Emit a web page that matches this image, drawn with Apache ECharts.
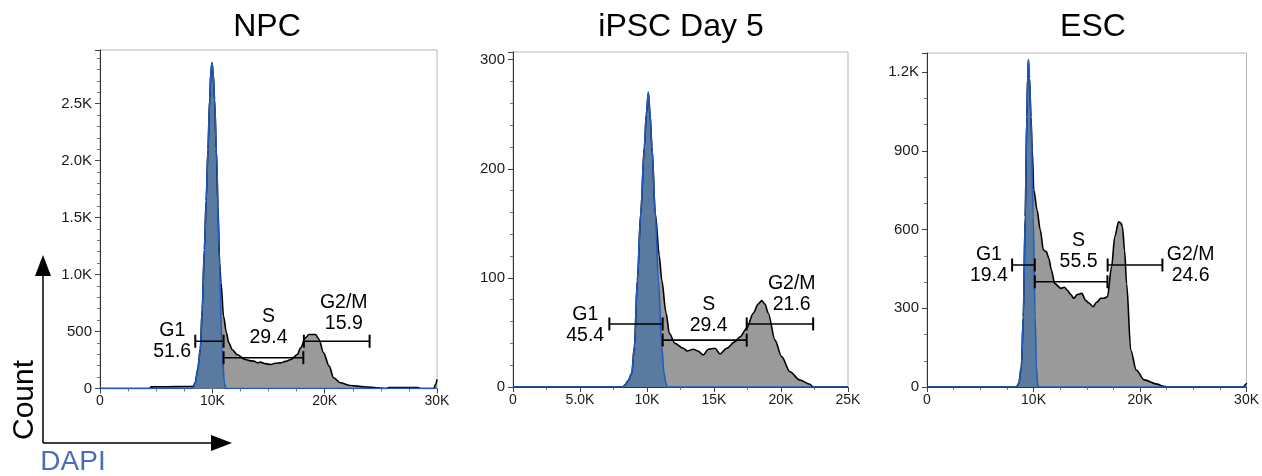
<!DOCTYPE html>
<html>
<head>
<meta charset="utf-8">
<script src="https://cdn.jsdelivr.net/npm/echarts@6/dist/echarts.min.js"></script>
<style>
  html, body { margin: 0; padding: 0; background: #fff; }
  #chart { width: 1262px; height: 476px; }
</style>
</head>
<body>
<div id="chart"></div>
<script>
// --- data (DAPI value, cell count) ---

const panelTitles = ['NPC', 'iPSC Day 5', 'ESC'];

// whole population histogram (grey) and G1 fit (blue)
const npcAll = [[0,0],[4400,0],[4550,14],[6000,16],[7500,17],[8300,18],[8480,55],[8700,170],[8930,350],[9100,700],[9290,1219],[9450,1650],[9610,2096],[9760,2535],[9870,2780],[9970,2857],[10080,2760],[10200,2535],[10360,2096],[10500,1600],[10650,1105],[10770,930],[11000,634],[11250,490],[11460,403],[11760,342],[12200,298],[12950,254],[13300,245],[13700,240],[14000,226],[14300,231],[14700,218],[15200,210],[15600,222],[16100,225],[16500,238],[17000,254],[17560,298],[17860,357],[18300,445],[18600,474],[19200,474],[19500,430],[19900,313],[20400,196],[20800,94],[21400,50],[22300,26],[23500,15],[24900,5],[25500,0],[25700,8],[28300,8],[28500,0],[29700,0],[29900,40],[30000,80]];
const npcG1 = [[0,0],[8300,0],[8480,50],[8700,160],[8930,342],[9100,700],[9290,1219],[9450,1650],[9610,2096],[9760,2535],[9870,2780],[9970,2857],[10080,2760],[10200,2535],[10360,2096],[10600,1219],[10870,342],[11070,50],[11200,0],[30000,0]];

const ipscAll = [[0,0],[8200,0],[8360,2],[8600,6],[8860,12.5],[9060,37],[9280,98],[9530,159],[9800,220],[9950,250],[10100,270],[10230,250],[10370,220],[10620,159],[10920,120],[11100,98],[11420,68],[11670,49],[12090,40],[12710,35.5],[13000,33],[13460,34.6],[13800,33],[14200,29.4],[14580,34.6],[15070,35.5],[15450,30.3],[15950,35.5],[16570,41.6],[16940,46],[17440,53.8],[17930,67.6],[18300,76],[18560,79.2],[18800,76],[19050,67.6],[19550,43],[20050,27.8],[20670,14],[21400,6.4],[22160,2.5],[22400,0],[25000,0]];
const ipscG1 = [[0,0],[8200,0],[8360,2],[8600,6],[8860,12.5],[9060,37],[9280,98],[9530,159],[9800,220],[9950,250],[10100,270],[10230,250],[10370,220],[10620,159],[10850,98],[11100,37],[11270,12.5],[11400,4],[11500,0],[25000,0]];

const escAll = [[0,0],[8400,0],[8620,14],[8860,77],[9040,268],[9220,649],[9370,1030],[9450,1180],[9520,1247],[9620,1180],[9760,1030],[9880,904],[10030,751],[10330,675],[10630,599],[10930,522],[11200,516],[11440,491],[11680,446],[11980,395],[12580,376],[12900,380],[13180,369],[13500,352],[13780,338],[14100,352],[14530,357],[14900,330],[15200,320],[15590,306],[15900,322],[16330,338],[16600,338],[16940,344],[17330,459],[17630,573],[17990,630],[18200,625],[18350,611],[18550,520],[18740,395],[19130,141],[19640,65],[20390,27],[21600,11],[22200,3],[22500,0],[29700,0],[29900,8],[30000,15]];
const escG1 = [[0,0],[8400,0],[8620,14],[8860,77],[9040,268],[9220,649],[9370,1030],[9450,1180],[9520,1247],[9620,1180],[9760,1030],[9970,649],[10150,268],[10270,77],[10390,10],[10500,0],[30000,0]];

// gates: name, percent, from, to, bar height (count)
const npcGates = [['G1','51.6',8480,11000,415],['S','29.4',11000,18100,270],['G2/M','15.9',18150,24000,415]];
const ipscGates = [['G1','45.4',7190,11170,57.8],['S','29.4',11170,17440,43],['G2/M','21.6',17440,22400,57.8]];
const escGates = [['G1','19.4',7990,10120,465],['S','55.5',10120,16940,401],['G2/M','24.6',16960,22100,465]];

// where the gate labels sit (DAPI, count)
const npcLabelAt = [[6430,412],[15000,539],[21700,657]];
const ipscLabelAt = [[5390,57],[14600,66],[20800,85]];
const escLabelAt = [[5810,463],[14230,518],[24750,465]];

// axis ticks
const npcXTicks = [0,10000,20000,30000], npcXLabels = ['0','10K','20K','30K'];
const npcYTicks = [0,500,1000,1500,2000,2500], npcYLabels = ['0','500','1.0K','1.5K','2.0K','2.5K'];
const ipscXTicks = [0,5000,10000,15000,20000,25000], ipscXLabels = ['0','5.0K','10K','15K','20K','25K'];
const ipscYTicks = [0,100,200,300], ipscYLabels = ['0','100','200','300'];
const escXTicks = [0,10000,20000,30000], escXLabels = ['0','10K','20K','30K'];
const escYTicks = [0,300,600,900,1200], escYLabels = ['0','300','600','900','1.2K'];

// --- layout ---
const FONT = "'Liberation Sans', Arial, sans-serif";
const panels = [
    { all: npcAll, g1: npcG1, gates: npcGates, labelAt: npcLabelAt,
      xT: npcXTicks, xL: npcXLabels, yT: npcYTicks, yL: npcYLabels,
      grid: { left: 100, top: 50, width: 337, height: 338.5 }, xMax: 30000, yMax: 2970,
      xInt: 10000, yInt: 500, xMinor: 4, yMinor: 5, titleX: 267 },
    { all: ipscAll, g1: ipscG1, gates: ipscGates, labelAt: ipscLabelAt,
      xT: ipscXTicks, xL: ipscXLabels, yT: ipscYTicks, yL: ipscYLabels,
      grid: { left: 513, top: 52, width: 335, height: 335 }, xMax: 25000, yMax: 307,
      xInt: 5000, yInt: 100, xMinor: 2, yMinor: 5, titleX: 681 },
    { all: escAll, g1: escG1, gates: escGates, labelAt: escLabelAt,
      xT: escXTicks, xL: escXLabels, yT: escYTicks, yL: escYLabels,
      grid: { left: 927, top: 53, width: 333, height: 334 }, xMax: 30000, yMax: 1273,
      xInt: 10000, yInt: 300, xMinor: 4, yMinor: 3, titleX: 1093 }
];

function lookup(ticks, labels) {
    return v => { const i = ticks.indexOf(v); return i < 0 ? '' : labels[i]; };
}

function axis(idx, max, interval, minor, ticks, labels, isX) {
    return {
        type: 'value', gridIndex: idx, min: 0, max: max, interval: interval,
        axisLine: { show: true, lineStyle: { color: '#333', width: 1 } },
        axisTick: { show: true, length: 5, lineStyle: { color: '#444' } },
        minorTick: { show: true, splitNumber: minor, length: 3, lineStyle: { color: '#777' } },
        splitLine: { show: false },
        axisLabel: { fontSize: isX ? 14 : 15, color: '#1a1a1a', fontFamily: FONT, margin: isX ? 6 : 8,
                     formatter: lookup(ticks, labels), showMaxLabel: true },
    };
}

const grid = [], xAxis = [], yAxis = [], series = [], graphic = [];

panels.forEach((p, i) => {
    grid.push(Object.assign({ show: true, borderColor: '#b5b5b5', borderWidth: 1 }, p.grid));
    xAxis.push(axis(i, p.xMax, p.xInt, p.xMinor, p.xT, p.xL, true));
    yAxis.push(axis(i, p.yMax, p.yInt, p.yMinor, p.yT, p.yL, false));

    series.push({
        type: 'line', xAxisIndex: i, yAxisIndex: i, data: p.all,
        smooth: 0.3, smoothMonotone: 'x', showSymbol: false, silent: true,
        lineStyle: { color: '#000', width: 1.6 },
        areaStyle: { color: '#9a9a9a', opacity: 1 }
    });
    series.push({
        type: 'line', xAxisIndex: i, yAxisIndex: i, data: p.g1,
        smooth: 0.3, smoothMonotone: 'x', showSymbol: false, silent: true,
        lineStyle: { color: '#1f5cc0', width: 1.6 },
        areaStyle: { color: '#5a7b9f', opacity: 1 }
    });
    p.gates.forEach(g => {
        series.push({
            type: 'line', xAxisIndex: i, yAxisIndex: i,
            data: [[g[2], g[4]], [g[3], g[4]]],
            symbol: 'rect', symbolSize: [2, 13], showSymbol: true, silent: true,
            itemStyle: { color: '#000' },
            lineStyle: { color: '#000', width: 1.6 }
        });
    });
    series.push({
        type: 'scatter', xAxisIndex: i, yAxisIndex: i, symbolSize: 0, silent: true,
        itemStyle: { opacity: 1, color: '#000' },
        data: p.gates.map((g, k) => ({ value: p.labelAt[k], name: g[0] + '\n' + g[1] })),
        label: { show: true, position: 'inside', formatter: '{b}', fontSize: 19.5, lineHeight: 21,
                 color: '#000', textBorderWidth: 0, fontFamily: FONT }
    });

    graphic.push({
        type: 'text', x: p.titleX, y: 27,
        style: { text: panelTitles[i], fill: '#000', font: '32px ' + FONT, align: 'center', verticalAlign: 'middle' }
    });
});

// Count / DAPI arrows at bottom left
graphic.push(
    { type: 'line', shape: { x1: 43, y1: 443, x2: 43, y2: 272 }, style: { stroke: '#000', lineWidth: 1.5 } },
    { type: 'polygon', shape: { points: [[35, 276], [51, 276], [43, 255]] }, style: { fill: '#000' } },
    { type: 'line', shape: { x1: 43, y1: 443, x2: 214, y2: 443 }, style: { stroke: '#000', lineWidth: 1.5 } },
    { type: 'polygon', shape: { points: [[211, 435], [211, 451], [232, 443]] }, style: { fill: '#000' } },
    { type: 'text', x: 25, y: 400, rotation: Math.PI / 2,
      style: { text: 'Count', fill: '#000', font: '30px ' + FONT, align: 'center', verticalAlign: 'middle' } },
    { type: 'text', x: 73, y: 462,
      style: { text: 'DAPI', fill: '#4a6db8', font: '28px ' + FONT, align: 'center', verticalAlign: 'middle' } }
);

const chart = echarts.init(document.getElementById('chart'));
chart.setOption({
    animation: false,
    textStyle: { fontFamily: FONT },
    grid: grid,
    xAxis: xAxis,
    yAxis: yAxis,
    series: series,
    graphic: graphic
});
</script>
</body>
</html>
